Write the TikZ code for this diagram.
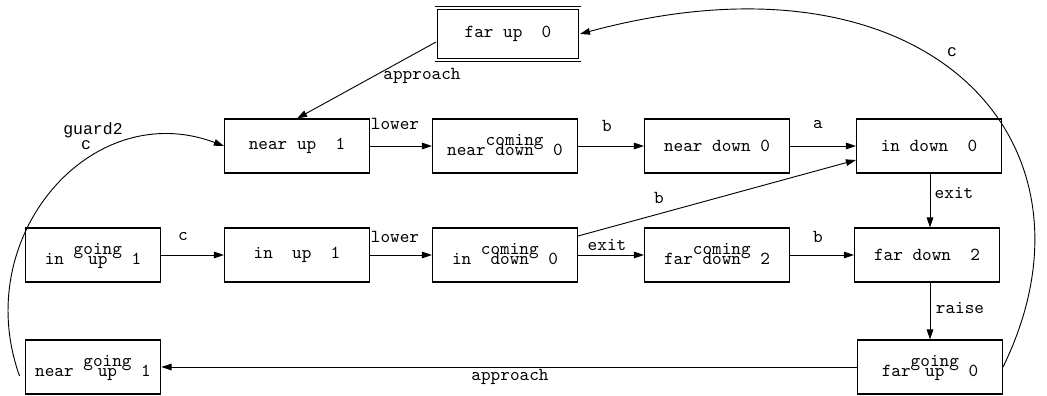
\documentclass[tikz,border=0pt]{standalone}
\usepackage{fontspec}
\newfontfamily\cour{Liberation Mono}
\usetikzlibrary{arrows.meta,calc}
\newcommand{\stk}[2]{\begin{tabular}[b]{@{}c@{}}#1\\[-6.3pt]#2\end{tabular}}
\begin{document}
\begin{tikzpicture}[x=0.545pt,y=-0.545pt,
  st/.style={draw, line width=0.6pt, minimum width=79pt, minimum height=29.4pt, inner sep=0pt, font=\ttfamily},
  stn/.style={st, minimum width=74pt},
  init/.style={st, double, double distance=1.1pt, line width=0.45pt, minimum width=78pt, minimum height=28.5pt},
  tr/.style={-{Triangle[length=5.5pt,width=3.6pt]}, line width=0.5pt},
  lb/.style={font=\ttfamily, inner sep=0pt},
  lc/.style={font=\cour\fontsize{9}{10}\selectfont, inner sep=0pt}]
\useasboundingbox (0,0) rectangle (1047,395);
% states
\node[init] (fu) at (508,34) {far up~~0};
\node[st] (nu) at (297,146) {near up~~1};
\node[st] (cnd) at (505,146) {near\stk{coming}{down}~0};
\node[st] (nd) at (717,146) {near down~0};
\node[st] (id) at (929,146) {in down~~0};
\node[stn] (igu) at (93,255) {in \stk{going}{up}~1};
\node[st] (iu) at (297,255) {in~~up~~1};
\node[st] (icd) at (505,255) {in \stk{coming}{down}~0};
\node[st] (fcd) at (717,255) {far\stk{coming}{down}~2};
\node[st] (fd) at (927,255) {far down~~2};
\node[stn] (ngu) at (93,367) {near \stk{going}{up}~1};
\node[st] (fgu) at (930,367) {far\stk{going}{up}~0};
% transitions
\draw[tr] ($(fu.west)+(0,8)$) -- (nu.north);
\node[lb] (l1) at (422,76) {approach};
\draw[tr] (nu) -- (cnd);
\node[lb] (l2) at (395,124) {lower};
\draw[tr] (cnd) -- (nd);
\node[lb] (l3) at (607,126) {b};
\draw[tr] (nd) -- (id);
\node[lb] (l4) at (818,125) {a};
\draw[tr] ($(icd.east)+(0,-19)$) -- ($(id.west)+(0,14)$);
\node[lb] (l5) at (659,198) {b};
\draw[tr] (fgu.north |- id.south) -- (fgu.north |- fd.north);
\node[lb] (l6) at (954,193) {exit};
\draw[tr] (igu) -- (iu);
\node[lb] (l7) at (183,237) {c};
\draw[tr] (iu) -- (icd);
\node[lb] (l8) at (395,237) {lower};
\draw[tr] (icd) -- (fcd);
\node[lb] (l9) at (607,245) {exit};
\draw[tr] (fcd) -- (fd);
\node[lb] (l10) at (818,237) {b};
\draw[tr] (fgu.north |- fd.south) -- (fgu.north);
\node[lb] (l11) at (960,308) {raise};
\draw[tr] (fgu) -- (ngu);
\node[lb] (l12) at (510,377) {approach};
\draw[tr] (fgu.east) .. controls ($(fgu.east)+(110,-225)$) and ($(fu.east)+(349,-94)$) .. (fu.east);
\node[lc] (l13) at (952,52) {c};
\coordinate (s14) at ($(ngu.west)+(-5,9)$);
\draw[tr] (s14) .. controls ($(s14)+(-50,-139)$) and ($(nu.west)+(-133,-50)$) .. (nu.west);
\node[lc] (l14) at (93,130) {guard2};
\node[lc] (l15) at (86,145) {c};
\end{tikzpicture}
\end{document}
